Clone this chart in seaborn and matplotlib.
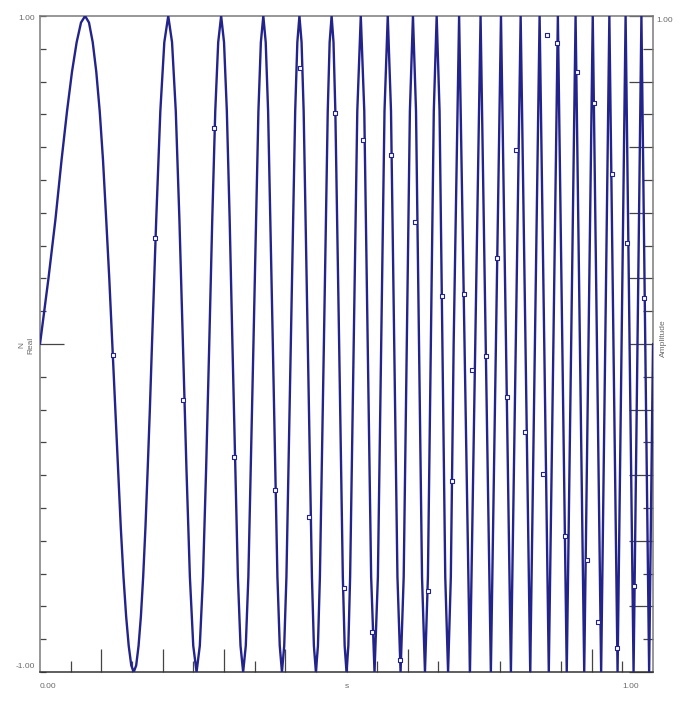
import numpy as np
import pandas as pd
import matplotlib
matplotlib.use("Agg")
import matplotlib.pyplot as plt
from matplotlib.ticker import MultipleLocator, FixedLocator, NullFormatter
import seaborn as sns

# chirp trace (time in s, amplitude)
t_up = [0.0, 0.1827, 0.2761, 0.3482, 0.4092, 0.4631, 0.5118, 0.5566, 0.5984, 0.6376,
        0.6748, 0.7101, 0.7438, 0.7762, 0.8074, 0.8375, 0.8665, 0.8947, 0.9221, 0.9488,
        0.9747, 1.0]
t_down = [0.1179, 0.2332, 0.3139, 0.3798, 0.4369, 0.4880, 0.5346, 0.5778, 0.6183, 0.6564,
          0.6926, 0.7271, 0.7602, 0.7920, 0.8226, 0.8521, 0.8807, 0.9085, 0.9355, 0.9618,
          0.9874]
t_peak = [0.0736, 0.2092, 0.2955, 0.3643, 0.4232, 0.4757, 0.5233, 0.5673, 0.6084, 0.6471,
          0.6837, 0.7187, 0.7520, 0.7841, 0.8150, 0.8448, 0.8737, 0.9017, 0.9288, 0.9553,
          0.9811]
t_trough = [0.1529, 0.2554, 0.3314, 0.3947, 0.4501, 0.5000, 0.5457, 0.5882, 0.6280, 0.6657,
            0.7014, 0.7355, 0.7682, 0.7997, 0.8300, 0.8593, 0.8878, 0.9154, 0.9422, 0.9683,
            0.9937]

# extra points on the wide early cycles
t_first = [0.0138, 0.0252, 0.0351, 0.0441, 0.0522, 0.0598, 0.0669, 0.0799, 0.0860,
           0.0918, 0.0974, 0.1028, 0.1080, 0.1130, 0.1227, 0.1273, 0.1318, 0.1362,
           0.1405, 0.1447, 0.1489, 0.1569, 0.1608, 0.1646, 0.1683, 0.1720, 0.1757,
           0.1792]
y_first = [0.20, 0.38, 0.56, 0.71, 0.83, 0.92, 0.98, 0.98, 0.92,
           0.83, 0.71, 0.56, 0.38, 0.20, -0.20, -0.38, -0.56, -0.71,
           -0.83, -0.92, -0.98, -0.98, -0.92, -0.83, -0.71, -0.56, -0.38,
           -0.20]
t_second = [0.1896, 0.1963, 0.2028, 0.2154, 0.2215, 0.2274, 0.2389, 0.2445, 0.2500,
            0.2607, 0.2659, 0.2710, 0.2810, 0.2859, 0.2907, 0.3002, 0.3048, 0.3094,
            0.3228, 0.3271, 0.3357, 0.3399, 0.3563, 0.3603, 0.3682, 0.3721, 0.3873,
            0.3911, 0.3984, 0.4020, 0.4163, 0.4198, 0.4267, 0.4301, 0.4436, 0.4468,
            0.4534, 0.4566, 0.4694, 0.4725, 0.4788, 0.4818, 0.4940, 0.4970, 0.5030,
            0.5059]
y_second = [0.38, 0.71, 0.92, 0.92, 0.71, 0.38, -0.38, -0.71, -0.92,
            -0.92, -0.71, -0.38, 0.38, 0.71, 0.92, 0.92, 0.71, 0.38,
            -0.71, -0.92, -0.92, -0.71, 0.71, 0.92, 0.92, 0.71, -0.71,
            -0.92, -0.92, -0.71, 0.71, 0.92, 0.92, 0.71, -0.71, -0.92,
            -0.92, -0.71, 0.71, 0.92, 0.92, 0.71, -0.71, -0.92, -0.92,
            -0.71]
t_third = [0.5176, 0.5290, 0.5402, 0.5512, 0.5620, 0.5726, 0.5831, 0.5933, 0.6034,
           0.6134, 0.6232, 0.6328, 0.6424, 0.6518, 0.6611, 0.6702]
y_third = [0.71, 0.71, -0.71, -0.71, 0.71, 0.71, -0.71, -0.71, 0.71,
           0.71, -0.71, -0.71, 0.71, 0.71, -0.71, -0.71]

# sample markers
mark_t = [0.119, 0.188, 0.233, 0.284, 0.316, 0.383, 0.424, 0.439, 0.481, 0.496,
          0.527, 0.542, 0.573, 0.587, 0.612, 0.633, 0.656, 0.672, 0.692, 0.705,
          0.728, 0.746, 0.762, 0.777, 0.791, 0.821, 0.827, 0.843, 0.856, 0.876,
          0.892, 0.904, 0.910, 0.933, 0.941, 0.958, 0.969, 0.985]
mark_y = [-0.034, 0.323, -0.171, 0.659, -0.345, -0.445, 0.841, -0.527, 0.704, -0.744,
          0.622, -0.878, 0.576, -0.963, 0.372, -0.753, 0.146, -0.418, 0.152, -0.079,
          -0.037, 0.262, -0.162, 0.591, -0.268, -0.396, 0.942, 0.918, -0.585, 0.829,
          -0.659, 0.735, -0.848, 0.518, -0.927, 0.308, -0.738, 0.140]

curve = pd.DataFrame({
    "t": t_up + t_down + t_peak + t_trough + t_first + t_second + t_third,
    "amp": [0.0] * (len(t_up) + len(t_down)) + [1.0] * len(t_peak)
           + [-1.0] * len(t_trough) + y_first + y_second + y_third,
}).sort_values("t")
marks = pd.DataFrame({"t": mark_t, "amp": mark_y})

sns.set_style("white")
plt.rcParams["font.family"] = ["Liberation Sans", "DejaVu Sans"]

blue = "#23238c"
grey = "#6a6a6a"
W, H = 684, 701
fig = plt.figure(figsize=(W / 100, H / 100), dpi=100)
x0, x1, y0, y1 = 40, 653, 16, 672
ax = fig.add_axes([x0 / W, 1 - y1 / H, (x1 - x0) / W, (y1 - y0) / H])

sns.lineplot(data=curve, x="t", y="amp", ax=ax, color=blue, lw=1.7,
             estimator=None, sort=True, zorder=3)
sns.scatterplot(data=marks, x="t", y="amp", ax=ax, marker="s", s=9,
                facecolor="white", edgecolor=blue, linewidth=0.8, zorder=4)

ax.set_xlim(0, 1)
ax.set_ylim(-1, 1)
ax.set_xlabel("")
ax.set_ylabel("")
for side in ["left", "right", "top", "bottom"]:
    ax.spines[side].set_color("#7a7a7a")
    ax.spines[side].set_linewidth(1.1)
ax.spines["bottom"].set_color("#333333")

# bottom ticks
ax.xaxis.set_major_locator(FixedLocator(np.arange(1, 10) / 10))
ax.xaxis.set_minor_locator(FixedLocator(np.arange(0.05, 1.0, 0.1)))
ax.xaxis.set_major_formatter(NullFormatter())
ax.tick_params(axis="x", which="major", direction="in", length=16.5, width=0.9,
               color="#444444", bottom=True, top=False)
ax.tick_params(axis="x", which="minor", direction="in", length=8, width=0.9,
               color="#444444", bottom=True, top=False)

# left ticks
ax.yaxis.set_major_locator(FixedLocator([0.0]))
ax.yaxis.set_minor_locator(MultipleLocator(0.1))
ax.yaxis.set_major_formatter(NullFormatter())
ax.tick_params(axis="y", which="major", direction="in", length=17, width=0.9,
               color="#444444", left=True, right=False)
ax.tick_params(axis="y", which="minor", direction="in", length=4.5, width=0.9,
               color="#444444", left=True, right=False)

# right axis ticks
ax2 = ax.twinx()
ax2.set_ylim(-1, 1)
ax2.yaxis.set_major_locator(FixedLocator(np.arange(-10, 11, 2) / 10))
ax2.yaxis.set_minor_locator(FixedLocator(np.arange(-9, 10, 2) / 10))
ax2.yaxis.set_major_formatter(NullFormatter())
ax2.tick_params(axis="y", which="major", direction="in", length=17, width=0.9,
                color="#444444", right=True, left=False)
ax2.tick_params(axis="y", which="minor", direction="in", length=7, width=0.9,
                color="#444444", right=True, left=False)
for side in ["left", "right", "top", "bottom"]:
    ax2.spines[side].set_visible(False)
ax.set_zorder(ax2.get_zorder() + 1)
ax.patch.set_visible(False)

fs = 6
def px(x, y, s, **kw):
    fig.text(x / W, 1 - y / H, s, fontsize=fs, color=grey, **kw)

px(35, 19, "1.00", ha="right", va="center")
px(35, 666, "-1.00", ha="right", va="center")
px(656, 20, "1.00", ha="left", va="center")
px(40, 686, "0.00", ha="left", va="center")
px(347, 686, "s", ha="center", va="center")
px(631, 686, "1.00", ha="center", va="center")
px(26, 345, "N\nReal", ha="center", va="center", rotation=90, multialignment="center",
   linespacing=1.4)
px(663, 338, "Amplitude", ha="center", va="center", rotation=90)

fig.savefig("out.png", dpi=100)
